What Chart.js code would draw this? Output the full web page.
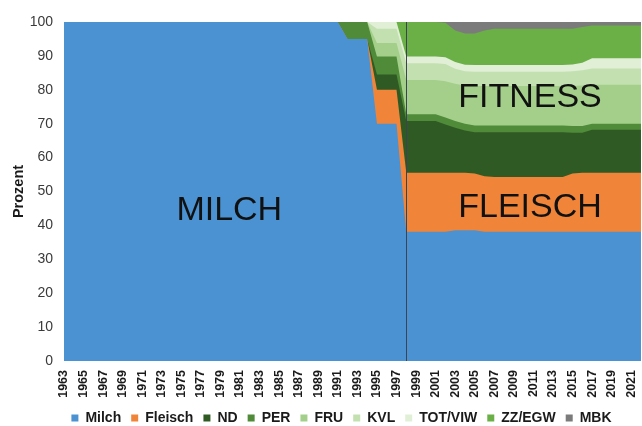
<!DOCTYPE html>
<html>
<head>
<meta charset="utf-8">
<script src="https://cdn.jsdelivr.net/npm/chart.js@4.4.0/dist/chart.umd.min.js"></script>
<style>
  body { margin: 0; background: #fff; }
  canvas { display: block; }
</style>
</head>
<body>
<canvas id="main" width="642" height="426"></canvas>
<script>
// years on the x axis (every other one is labelled)
const years = [
  1963, 1964, 1965, 1966, 1967, 1968, 1969, 1970, 1971, 1972,
  1973, 1974, 1975, 1976, 1977, 1978, 1979, 1980, 1981, 1982,
  1983, 1984, 1985, 1986, 1987, 1988, 1989, 1990, 1991, 1992,
  1993, 1994, 1995, 1996, 1997, 1998, 1999, 2000, 2001, 2002,
  2003, 2004, 2005, 2006, 2007, 2008, 2009, 2010, 2011, 2012,
  2013, 2014, 2015, 2016, 2017, 2018, 2019, 2020, 2021, 2022
];

// shares in percent, one value per year
const milch = [
  100, 100, 100, 100, 100, 100, 100, 100, 100, 100,
  100, 100, 100, 100, 100, 100, 100, 100, 100, 100,
  100, 100, 100, 100, 100, 100, 100, 100, 100, 95,
  95, 95, 70, 70, 70, 38.1, 38.1, 38.1, 38.1, 38.1,
  38.6, 38.6, 38.6, 38.1, 38.1, 38.1, 38.1, 38.1, 38.1, 38.1,
  38.1, 38.1, 38.1, 38.1, 38.1, 38.1, 38.1, 38.1, 38.1, 38.1
];
const fleisch = [
  0, 0, 0, 0, 0, 0, 0, 0, 0, 0,
  0, 0, 0, 0, 0, 0, 0, 0, 0, 0,
  0, 0, 0, 0, 0, 0, 0, 0, 0, 0,
  0, 0, 10, 10, 10, 17.4, 17.4, 17.4, 17.4, 17.4,
  16.9, 16.9, 16.7, 16.4, 16.2, 16.2, 16.2, 16.2, 16.2, 16.2,
  16.2, 16.2, 17.2, 17.4, 17.4, 17.4, 17.4, 17.4, 17.4, 17.4
];
const nd = [
  0, 0, 0, 0, 0, 0, 0, 0, 0, 0,
  0, 0, 0, 0, 0, 0, 0, 0, 0, 0,
  0, 0, 0, 0, 0, 0, 0, 0, 0, 0,
  0, 0, 4.5, 4.5, 4.5, 15.3, 15.3, 15.3, 15.3, 14.3,
  13.3, 12.5, 12.2, 13.0, 13.2, 13.2, 13.2, 13.2, 13.2, 13.2,
  13.2, 13.2, 12.0, 11.8, 12.7, 12.7, 12.7, 12.7, 12.7, 12.7
];
const per = [
  0, 0, 0, 0, 0, 0, 0, 0, 0, 0,
  0, 0, 0, 0, 0, 0, 0, 0, 0, 0,
  0, 0, 0, 0, 0, 0, 0, 0, 0, 5,
  5, 5, 5.3, 5.3, 5.3, 2, 2, 2, 2, 2,
  2, 2, 2, 2, 2, 2, 2, 2, 2, 2,
  2, 2, 2, 2, 1.8, 1.8, 1.8, 1.8, 1.8, 1.8
];
const fru = [
  0, 0, 0, 0, 0, 0, 0, 0, 0, 0,
  0, 0, 0, 0, 0, 0, 0, 0, 0, 0,
  0, 0, 0, 0, 0, 0, 0, 0, 0, 0,
  0, 0, 4, 4, 4, 10.1, 10.1, 10.1, 10.1, 10.7,
  11.0, 11.2, 11.6, 11.6, 11.6, 11.6, 11.6, 11.6, 11.6, 11.6,
  11.6, 11.6, 11.8, 12.0, 11.5, 11.5, 11.5, 11.5, 11.5, 11.5
];
const kvl = [
  0, 0, 0, 0, 0, 0, 0, 0, 0, 0,
  0, 0, 0, 0, 0, 0, 0, 0, 0, 0,
  0, 0, 0, 0, 0, 0, 0, 0, 0, 0,
  0, 0, 4.2, 4.2, 4.2, 4.9, 4.9, 4.9, 4.9, 5.1,
  4.4, 4.3, 4.2, 4.2, 4.2, 4.2, 4.2, 4.2, 4.2, 4.2,
  4.2, 4.2, 4.4, 4.5, 4.8, 4.8, 4.8, 4.8, 4.8, 4.8
];
const totViw = [
  0, 0, 0, 0, 0, 0, 0, 0, 0, 0,
  0, 0, 0, 0, 0, 0, 0, 0, 0, 0,
  0, 0, 0, 0, 0, 0, 0, 0, 0, 0,
  0, 0, 2, 2, 2, 2, 2, 2, 2, 2,
  2, 1.9, 2, 2, 2, 2, 2, 2, 2, 2,
  2, 2, 2, 2.2, 3, 3, 3, 3, 3, 3
];
const zzEgw = [
  0, 0, 0, 0, 0, 0, 0, 0, 0, 0,
  0, 0, 0, 0, 0, 0, 0, 0, 0, 0,
  0, 0, 0, 0, 0, 0, 0, 0, 0, 0,
  0, 0, 0, 0, 0, 10.2, 10.2, 10.2, 10.2, 10.2,
  9.3, 9.2, 9.3, 10.2, 10.7, 10.7, 10.7, 10.7, 10.7, 10.7,
  10.7, 10.7, 10.5, 10.5, 9.7, 9.7, 9.7, 9.7, 9.7, 9.7
];
const mbk = [
  0, 0, 0, 0, 0, 0, 0, 0, 0, 0,
  0, 0, 0, 0, 0, 0, 0, 0, 0, 0,
  0, 0, 0, 0, 0, 0, 0, 0, 0, 0,
  0, 0, 0, 0, 0, 0, 0, 0, 0, 0.2,
  2.5, 3.4, 3.4, 2.5, 2, 2, 2, 2, 2, 2,
  2, 2, 2, 1.5, 1, 1, 1, 1, 1, 1
];

const seriesNames = ['Milch', 'Fleisch', 'ND', 'PER', 'FRU', 'KVL', 'TOT/VIW', 'ZZ/EGW', 'MBK'];
const seriesData = [milch, fleisch, nd, per, fru, kvl, totViw, zzEgw, mbk];
const seriesColors = ['#4a92d2', '#f0853a', '#305a24', '#4f8b39', '#a4cf8a', '#c3e0b0', '#e1efd7', '#6bb047', '#7b7b7b'];

// labels written into the areas, placed in data coordinates
const notes = [
  { text: 'MILCH', year: 1979.9, value: 41.5 },
  { text: 'FLEISCH', year: 2010.65, value: 42.6 },
  { text: 'FITNESS', year: 2010.65, value: 75.0 }
];
const markerYear = 1998;

const FONT = '"Liberation Sans", Arial, Helvetica, sans-serif';

const overlay = {
  id: 'overlay',
  afterLayout(chart) {
    // legend in the original sits a bit right of centre
    chart.legend.left += 42;
  },
  afterDatasetsDraw(chart) {
    const { ctx, chartArea, scales: { x, y } } = chart;
    ctx.save();
    const lx = Math.round(x.getPixelForValue(years.indexOf(markerYear))) + 0.5;
    ctx.strokeStyle = '#3b4552';
    ctx.lineWidth = 1;
    ctx.beginPath();
    ctx.moveTo(lx, chartArea.top);
    ctx.lineTo(lx, chartArea.bottom);
    ctx.stroke();

    ctx.font = '34px ' + FONT;
    ctx.fillStyle = '#111';
    ctx.textAlign = 'center';
    ctx.textBaseline = 'alphabetic';
    notes.forEach(n => {
      ctx.fillText(n.text, x.getPixelForValue(n.year - years[0]), y.getPixelForValue(n.value));
    });
    ctx.restore();
  }
};

const main = function() {
  new Chart(document.getElementById('main'), {
    type: 'line',
    plugins: [overlay],
    data: {
      labels: years.map(String),
      datasets: seriesNames.map((name, i) => ({
        label: name,
        data: seriesData[i],
        backgroundColor: seriesColors[i],
        borderColor: 'rgba(0,0,0,0)',
        borderWidth: 0,
        pointRadius: 0,
        pointHoverRadius: 0,
        tension: 0,
        fill: 'origin',
      })),
    },
    options: {
      responsive: false,
      animation: false,
      events: [],
      layout: { padding: { top: 22, right: 1, left: 0, bottom: -9 } },
      plugins: {
        tooltip: { enabled: false },
        legend: {
          position: 'bottom',
          labels: {
            boxWidth: 7,
            boxHeight: 7,
            padding: 10,
            color: '#1a1a1a',
            font: { family: FONT, size: 14, weight: 'bold' },
          },
        },
      },
      scales: {
        x: {
          grid: { display: false, drawTicks: false },
          border: { display: false },
          ticks: {
            autoSkip: false,
            minRotation: 90,
            maxRotation: 90,
            padding: 9,
            color: '#1a1a1a',
            font: { family: FONT, size: 12.5, weight: 'bold' },
            callback: (v, i) => (i % 2 === 0 ? String(years[i]) : ''),
          },
          afterFit(scale) {
            scale.paddingLeft = 0;
            scale.paddingRight = 0;
            scale.height = 40;
          },
        },
        y: {
          stacked: true,
          min: 0,
          max: 100,
          grid: { display: false, drawTicks: false },
          border: { display: false },
          ticks: {
            stepSize: 10,
            padding: 11,
            color: '#3a3a3a',
            font: { family: FONT, size: 14 },
          },
          title: {
            display: true,
            text: 'Prozent',
            color: '#1a1a1a',
            padding: { top: 10, bottom: 0 },
            font: { family: FONT, size: 14.5, weight: 'bold' },
          },
          afterFit(scale) {
            scale.width = 64;
          },
        },
      },
    },
  });
};

main();
</script>
</body>
</html>
